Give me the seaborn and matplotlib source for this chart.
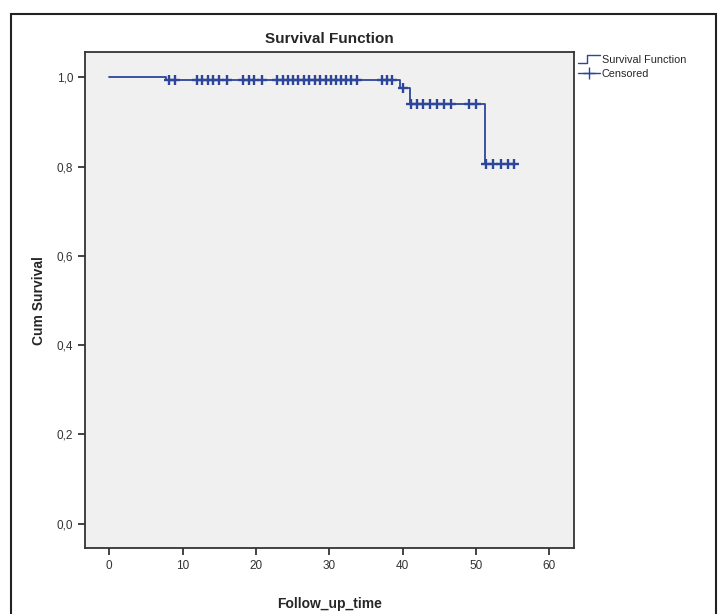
import numpy as np
import pandas as pd
import matplotlib
matplotlib.use("Agg")
import matplotlib.pyplot as plt
from matplotlib.lines import Line2D
from matplotlib.legend_handler import HandlerBase
from matplotlib.patches import Rectangle
from matplotlib.ticker import FuncFormatter, FixedLocator
import seaborn as sns

# Kaplan-Meier step function
step_times = [0.0, 7.7, 39.7, 41.0, 51.2]
step_surv = [1.0, 0.994, 0.975, 0.941, 0.805]
end_time = 55.2

# censored observations (times)
censored_times = [8.2, 9.0, 12.0, 12.7, 13.4, 14.1, 14.9, 16.0,
                  18.2, 19.0, 19.8, 20.8, 22.9, 23.7, 24.4, 25.1, 25.8,
                  26.5, 27.2, 28.1, 28.8, 29.5, 30.2, 30.9, 31.6, 32.3,
                  33.0, 33.8, 37.2, 37.9, 38.6, 40.1,
                  41.1, 41.9, 42.8, 43.7, 44.7, 45.6, 46.6, 49.0, 50.0,
                  51.3, 52.3, 53.4, 54.3, 55.2]

x_ticks = [0, 10, 20, 30, 40, 50, 60]
y_ticks = [0.0, 0.2, 0.4, 0.6, 0.8, 1.0]

line_color = "#2d4699"

sns.set_style("white")
plt.rcParams["font.family"] = ["Liberation Sans", "DejaVu Sans"]

curve = pd.DataFrame({"time": step_times + [end_time],
                      "surv": step_surv + [step_surv[-1]]})
idx = np.searchsorted(step_times, censored_times, side="right") - 1
cens = pd.DataFrame({"time": censored_times,
                     "surv": np.array(step_surv)[idx]})

fig = plt.figure(figsize=(7.18, 6.14), dpi=100)
ax = fig.add_axes([0.1184, 0.1070, 0.6815, 0.8078])
ax.set_facecolor("#f0f0f0")

sns.lineplot(data=curve, x="time", y="surv", ax=ax, color=line_color,
             drawstyle="steps-post", linewidth=1.3, sort=False,
             estimator=None)
sns.scatterplot(data=cens, x="time", y="surv", ax=ax, marker="+",
                color=line_color, s=55, linewidth=1.7, zorder=3)

ax.set_xlim(-3.3, 63.4)
ax.set_ylim(-0.055, 1.056)
ax.xaxis.set_major_locator(FixedLocator(x_ticks))
ax.yaxis.set_major_locator(FixedLocator(y_ticks))
ax.yaxis.set_major_formatter(FuncFormatter(lambda v, p: f"{v:.1f}".replace(".", ",")))
ax.tick_params(direction="out", length=5, width=1.2, colors="#222222",
               labelsize=8.5, labelcolor="#333333", bottom=True, left=True)
for s in ax.spines.values():
    s.set_color("#333333")
    s.set_linewidth(1.3)

ax.set_title("Survival Function", fontsize=11, fontweight="bold", pad=7)
ax.set_xlabel("Follow_up_time", fontsize=10, fontweight="bold", labelpad=18)
ax.set_ylabel("Cum Survival", fontsize=10, fontweight="bold", labelpad=8)


class StepHandler(HandlerBase):
    def create_artists(self, legend, orig_handle, xdescent, ydescent,
                       width, height, fontsize, trans):
        xs = [0, width * 0.4, width * 0.4, width]
        ys = [0, 0, height, height]
        ln = Line2D([x - xdescent for x in xs], [y - ydescent for y in ys],
                    color=line_color, linewidth=1.0, transform=trans)
        return [ln]


surv_handle = Line2D([], [], color=line_color)
cens_handle = Line2D([], [], color=line_color, marker="+", markersize=8,
                     linewidth=1.0)
fig.legend([surv_handle, cens_handle], ["Survival Function", "Censored"],
           handler_map={surv_handle: StepHandler()},
           loc="upper left", bbox_to_anchor=(578 / 718, 1 - 55 / 614),
           frameon=False, fontsize=7.8, handlelength=2.0, handletextpad=0.2,
           labelspacing=0.35, borderaxespad=0, borderpad=0)

fig.patches.append(Rectangle((11 / 718, -0.05), 705 / 718, 1.05 - 14 / 614,
                             transform=fig.transFigure, fill=False,
                             edgecolor="#222222", linewidth=1.5))

fig.savefig("out.png", dpi=100)
